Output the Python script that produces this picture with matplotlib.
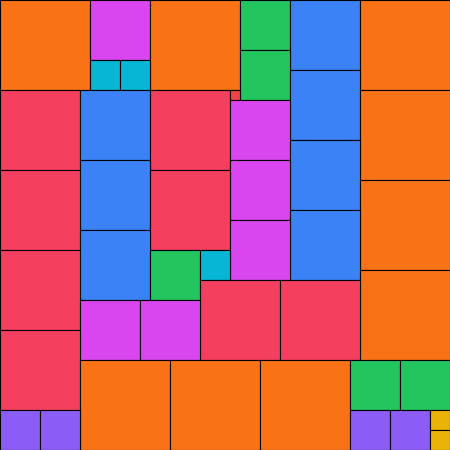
import numpy as np
import matplotlib
matplotlib.use("Agg")
import matplotlib.pyplot as plt
from matplotlib.patches import Rectangle

# Square sizes (in units of 10 px) in placement order (row-major, first free cell)
placement_sizes = [9, 6, 9, 5, 7, 9, 5, 3, 3, 7, 8, 7, 8, 1, 9, 6, 7, 7, 6,
                   8, 8, 9, 7, 6, 7, 8, 5, 3, 9, 8, 8, 6, 6, 8,
                   9, 9, 9, 5, 5, 4, 4, 4, 4, 2, 2]

size_colors = {
    9: "#f97316",
    8: "#f43f5e",
    7: "#3b82f6",
    6: "#d946ef",
    5: "#22c55e",
    4: "#8b5cf6",
    3: "#06b6d4",
    2: "#eab308",
    1: "#ef4444",
}

side = 45

fig = plt.figure(figsize=(4.5, 4.5), dpi=100)
ax = fig.add_axes([0, 0, 1, 1])
ax.set_xlim(0, side)
ax.set_ylim(side, 0)
ax.axis("off")

grid = np.zeros((side, side), dtype=bool)
for s in placement_sizes:
    free = np.argwhere(~grid)
    r, c = free[0]
    grid[r:r + s, c:c + s] = True
    ax.add_patch(Rectangle((c, r), s, s, facecolor=size_colors[s],
                           edgecolor="black", linewidth=0.8, clip_on=False))

fig.savefig("out.png", dpi=100)
